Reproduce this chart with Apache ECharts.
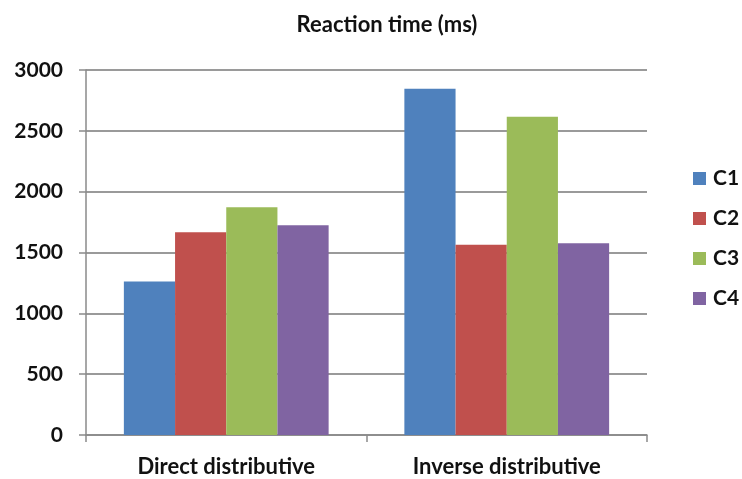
<!DOCTYPE html>
<html>
<head>
<meta charset="utf-8">
<script src="https://cdn.jsdelivr.net/npm/echarts@6/dist/echarts.min.js"></script>
<style>
  html, body { margin: 0; padding: 0; background: #fff; }
  #chart { width: 742px; height: 479px; }
</style>
</head>
<body>
<div id="chart"></div>
<script>
// Reaction time by task type and condition
const categories = ['Direct distributive', 'Inverse distributive'];
const seriesNames = ['C1', 'C2', 'C3', 'C4'];
const c1 = [1261, 2845];
const c2 = [1666, 1563];
const c3 = [1872, 2615];
const c4 = [1724, 1576];
const yTicks = [0, 500, 1000, 1500, 2000, 2500, 3000];

const colors = ['#4F81BD', '#C0504D', '#9BBB59', '#8064A2'];
const font = 'Lato, "Open Sans", sans-serif';
const values = [c1, c2, c3, c4];

const chart = echarts.init(document.getElementById('chart'));
chart.setOption({
  animation: false,
  title: {
    text: 'Reaction time (ms)',
    left: 382, top: 9, textAlign: 'center',
    textStyle: { fontFamily: font, fontWeight: 'bold', fontSize: 22, color: '#111' }
  },
  legend: {
    orient: 'vertical',
    left: 693, top: 168,
    padding: 0,
    itemWidth: 13, itemHeight: 13, itemGap: 19,
    icon: 'rect',
    data: seriesNames,
    textStyle: { fontFamily: font, fontWeight: 'bold', fontSize: 21, lineHeight: 20, color: '#111', padding: [0, 0, 0, 2] }
  },
  grid: { left: 86, right: 95, top: 70, bottom: 44, containLabel: false },
  xAxis: {
    type: 'category',
    data: categories,
    axisLine: { lineStyle: { color: '#8a8a8a', width: 1.5 } },
    axisTick: { show: true, length: 7, lineStyle: { color: '#8a8a8a', width: 1.5 } },
    axisLabel: { fontFamily: font, fontWeight: 'bold', fontSize: 22, color: '#111', margin: 21 }
  },
  yAxis: {
    type: 'value',
    min: yTicks[0], max: yTicks[yTicks.length - 1], interval: 500,
    axisLine: { show: true, lineStyle: { color: '#8a8a8a', width: 1.5 } },
    axisTick: { show: true, length: 7, lineStyle: { color: '#8a8a8a', width: 1.5 } },
    splitLine: { lineStyle: { color: '#9a9a9a', width: 1.8 } },
    axisLabel: {
      fontFamily: font, fontWeight: 'bold', fontSize: 21, color: '#111', margin: 23,
      formatter: v => String(v)
    }
  },
  series: seriesNames.map((name, i) => ({
    name,
    type: 'bar',
    data: values[i],
    itemStyle: { color: colors[i] },
    barGap: '0%',
    barCategoryGap: '27%'
  }))
});
</script>
</body>
</html>
